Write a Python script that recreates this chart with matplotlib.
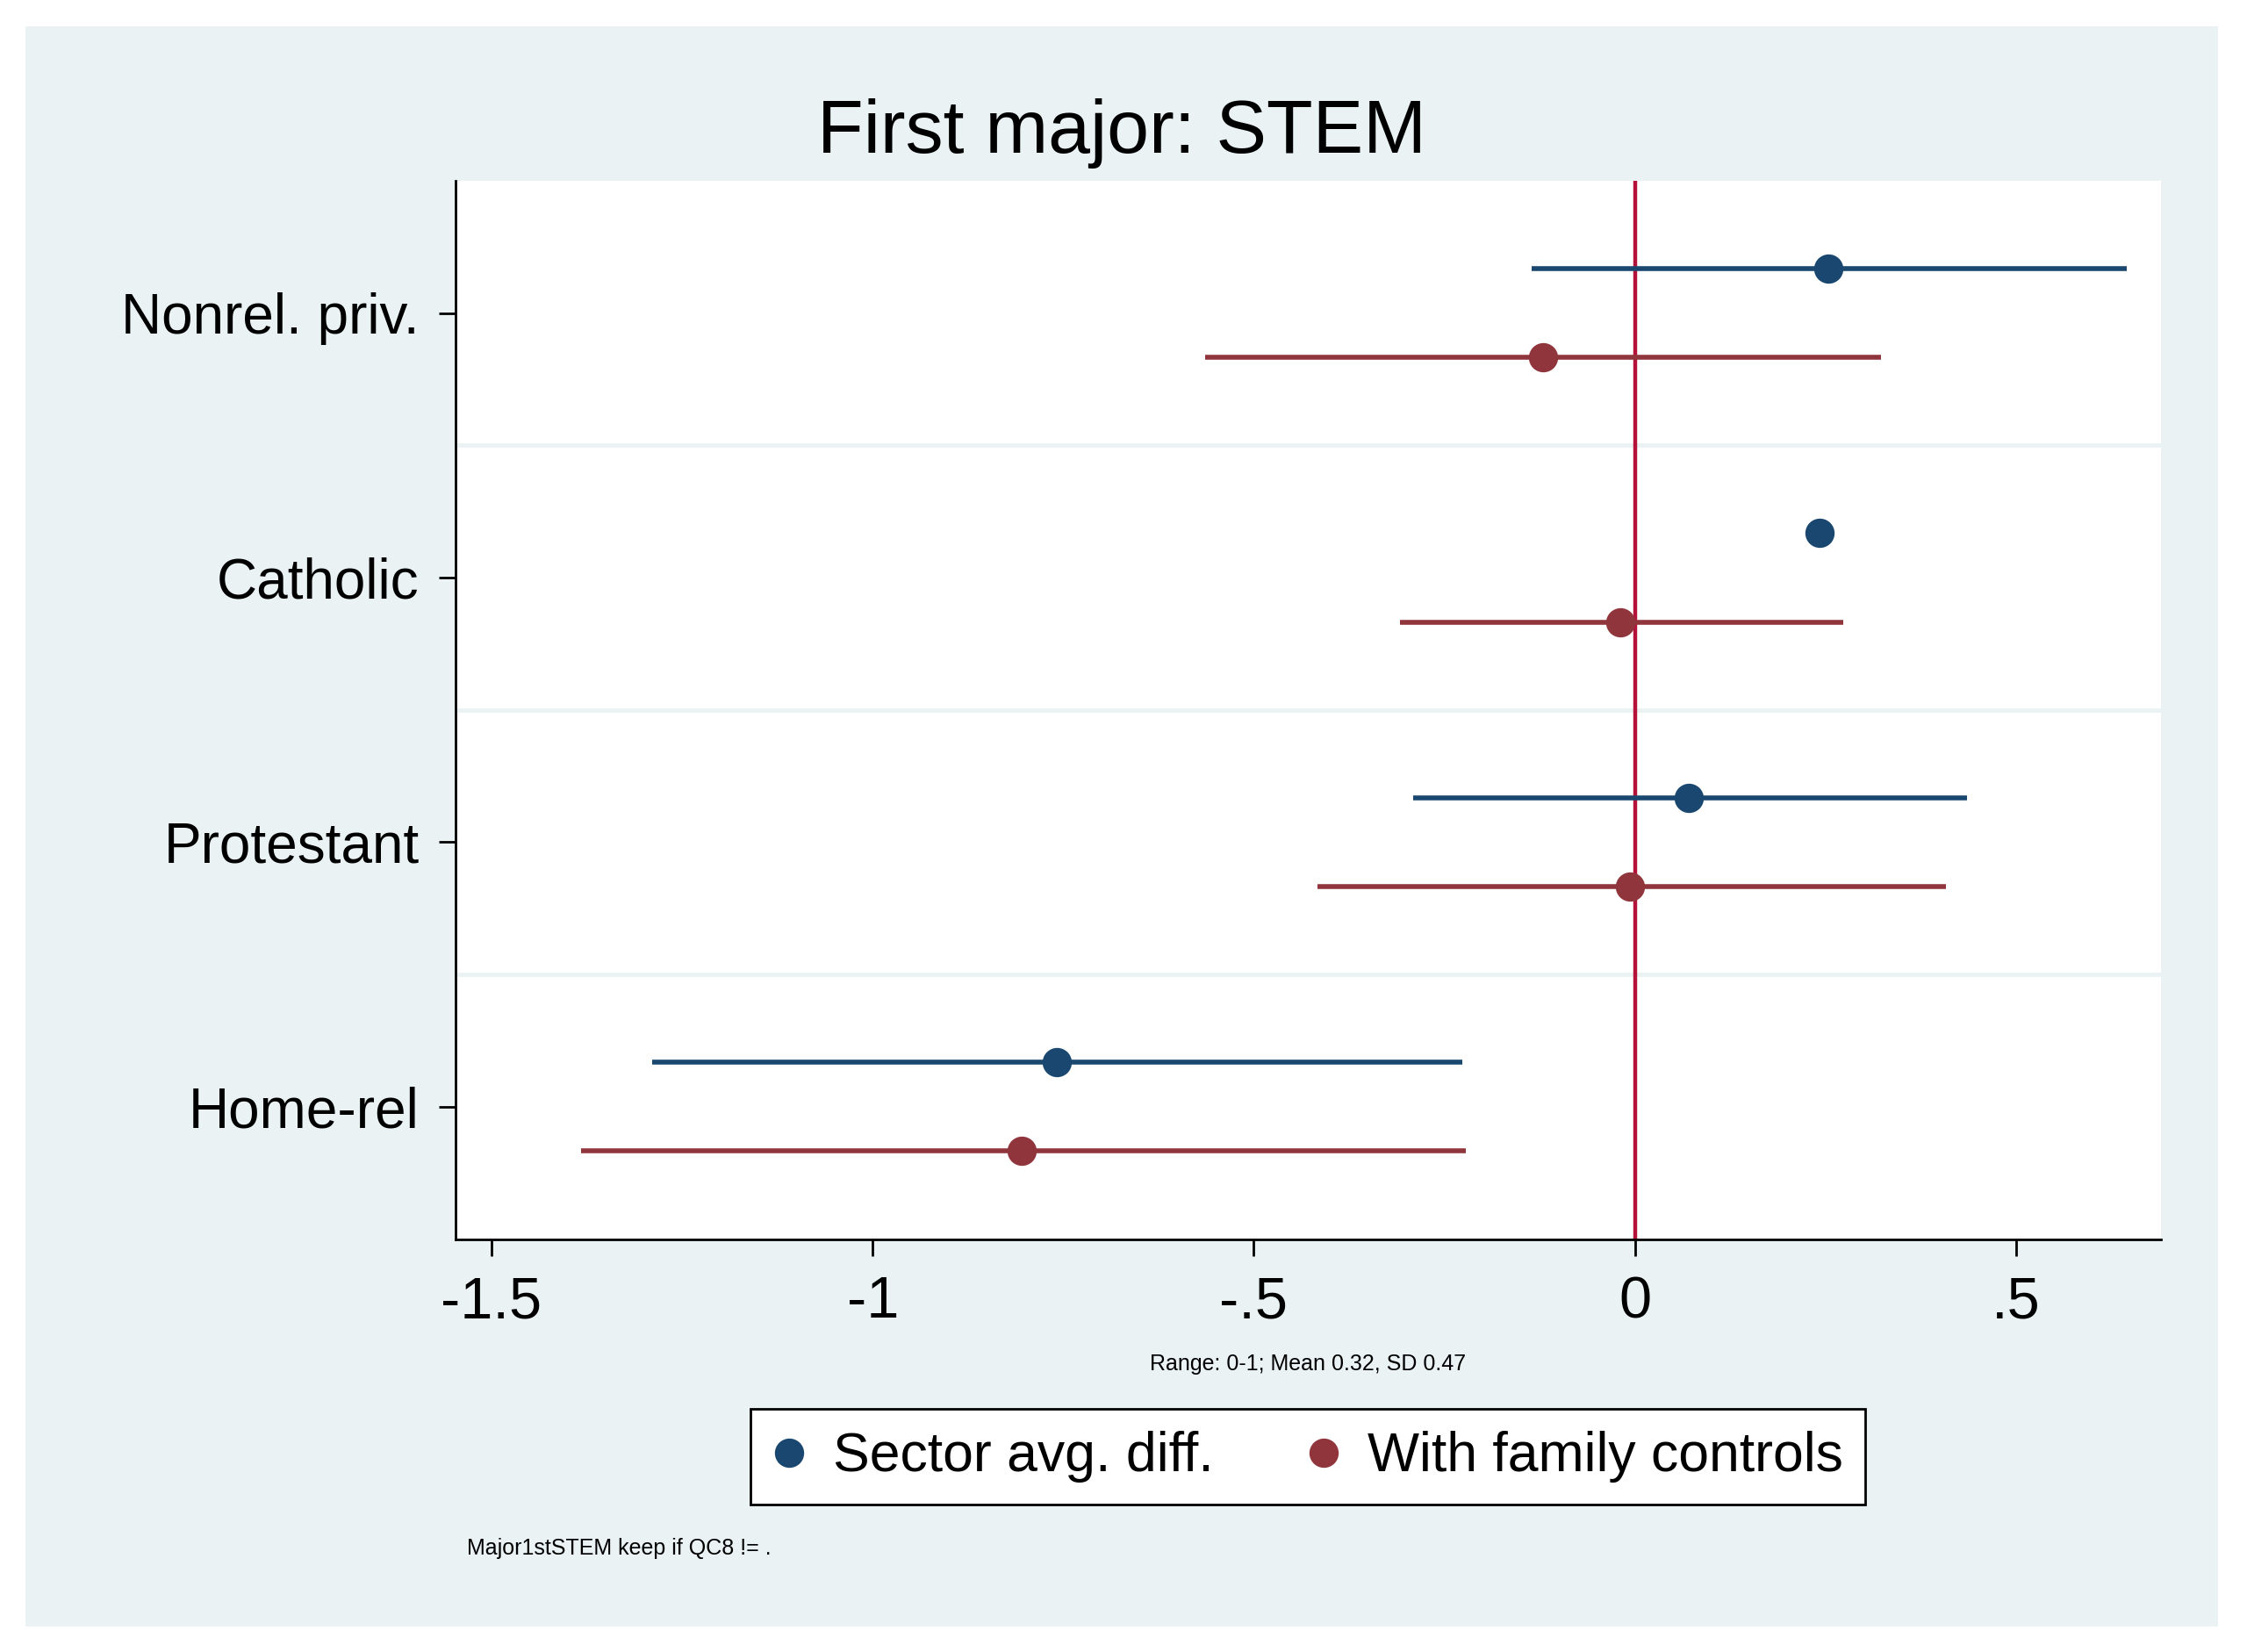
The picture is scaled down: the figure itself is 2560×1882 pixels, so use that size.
import numpy as np
import matplotlib.pyplot as plt
from matplotlib.patches import Rectangle
from matplotlib.lines import Line2D

plt.rcParams['font.family'] = ['Liberation Sans', 'DejaVu Sans']

# Data
groups = ["Nonrel. priv.", "Catholic", "Protestant", "Home-rel"]
avg_diff = [0.254, 0.242, 0.071, -0.758]
avg_lo = [-0.135, np.nan, -0.291, -1.289]
avg_hi = [0.645, np.nan, 0.436, -0.226]
fam_ctrl = [-0.120, -0.019, -0.006, -0.805]
fam_lo = [-0.564, -0.308, -0.417, -1.383]
fam_hi = [0.323, 0.273, 0.408, -0.222]

xticks = [-1.5, -1, -0.5, 0, 0.5]
xticklabels = ["-1.5", "-1", "-.5", "0", ".5"]

blue = "#1a476f"
red = "#90353b"
bg = "#eaf2f3"

fig = plt.figure(figsize=(12.8, 9.41), dpi=200, facecolor="white")
fig.patches.append(Rectangle((0.0115, 0.0156), 0.9755, 0.9684, transform=fig.transFigure,
                             facecolor=bg, edgecolor="none", zorder=-10))

ax = fig.add_axes([0.2028, 0.25, 0.7589, 0.6406])
ax.set_facecolor("white")

ypos = np.arange(len(groups), 0, -1)
off = 0.168

# gridlines between groups
for g in [1.5, 2.5, 3.5]:
    ax.axhline(g, color=bg, lw=1.7, zorder=1)

ax.axvline(0, color="#b5123a", lw=1.6, zorder=2)

ax.hlines(ypos + off, avg_lo, avg_hi, color=blue, lw=2, zorder=3)
ax.hlines(ypos - off, fam_lo, fam_hi, color=red, lw=2, zorder=3)
ax.plot(avg_diff, ypos + off, "o", color=blue, ms=11, zorder=4)
ax.plot(fam_ctrl, ypos - off, "o", color=red, ms=11, zorder=4)

ax.set_xlim(-1.547, 0.690)
ax.set_ylim(0.5, 4.5)
ax.set_yticks(ypos)
ax.set_yticklabels(groups, fontsize=23)
ax.set_xticks(xticks)
ax.set_xticklabels(xticklabels, fontsize=24)
ax.tick_params(axis="both", length=7, width=1, direction="out", pad=8)

for s in ["top", "right"]:
    ax.spines[s].set_visible(False)
for s in ["left", "bottom"]:
    ax.spines[s].set_linewidth(1)

fig.text(0.4994, 0.919, "First major: STEM", ha="center", va="center", fontsize=31)
fig.text(0.582, 0.1745, "Range: 0-1; Mean 0.32, SD 0.47", ha="center", va="center", fontsize=9)
fig.text(0.208, 0.0625, "Major1stSTEM keep if QC8 != .", ha="left", va="center", fontsize=9)

handles = [Line2D([], [], ls="none", marker="o", color=blue, ms=11),
           Line2D([], [], ls="none", marker="o", color=red, ms=11)]
leg = fig.legend(handles, ["Sector avg. diff.", "With family controls"], loc="center",
                 bbox_to_anchor=(0.582, 0.118), ncol=2, fontsize=22.5, frameon=True,
                 fancybox=False, edgecolor="black", facecolor="white", framealpha=1,
                 handlelength=0.6, handletextpad=0.5, columnspacing=1.7, borderpad=0.4,
                 borderaxespad=0)
leg.get_frame().set_linewidth(1)

fig.savefig("out.png", dpi=200, facecolor="white")
